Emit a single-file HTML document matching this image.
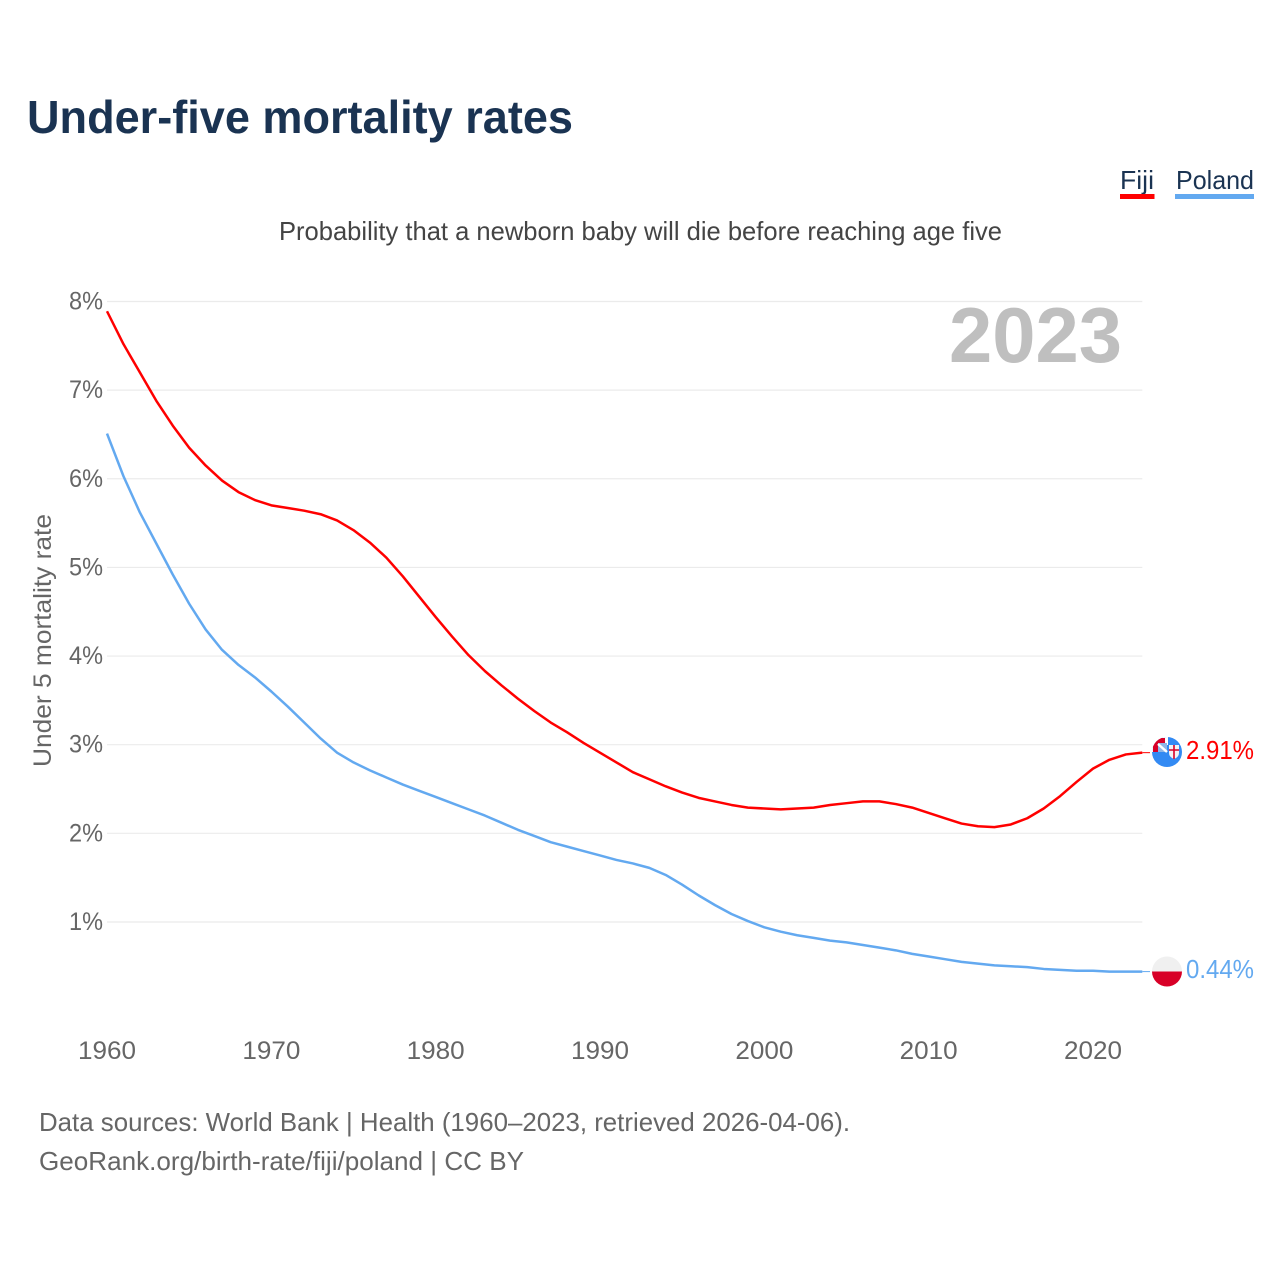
<!DOCTYPE html>
<html lang="en">
<head>
<meta charset="utf-8">
<title>Under-five mortality rates</title>
<style>
html,body{margin:0;padding:0;background:#fff;width:1280px;height:1280px;overflow:hidden}
svg{display:block}
text{font-family:"Liberation Sans",sans-serif}
</style>
</head>
<body>
<svg id="chart" width="1280" height="1280" viewBox="0 0 1280 1280" xmlns="http://www.w3.org/2000/svg">
  <defs>
    <clipPath id="fiji-clip"><circle cx="1167" cy="752" r="15"/></clipPath>
    <clipPath id="poland-clip"><circle cx="1167" cy="971.5" r="15"/></clipPath>
  </defs>
  <rect width="1280" height="1280" fill="#fff"/>
  <text x="27" y="133" font-size="46" font-weight="700" fill="#1a3352" textLength="546" lengthAdjust="spacingAndGlyphs">Under-five mortality rates</text>
  <g>
    <text x="1120" y="189" font-size="26" fill="#1a3352" textLength="34" lengthAdjust="spacingAndGlyphs">Fiji</text>
    <rect x="1120" y="194" width="34.5" height="5" fill="#ff0000"/>
  </g>
  <g>
    <text x="1176" y="189" font-size="26" fill="#1a3352" textLength="78" lengthAdjust="spacingAndGlyphs">Poland</text>
    <rect x="1175" y="194" width="79" height="5" fill="#63a9f0"/>
  </g>
  <text x="279" y="240" font-size="26" fill="#444" textLength="723" lengthAdjust="spacingAndGlyphs">Probability that a newborn baby will die before reaching age five</text>
  <g id="grid"></g>
  <g id="y-ticks"></g>
  <g id="x-ticks"></g>
  <text transform="translate(51,767) rotate(-90)" x="0" y="0" font-size="25" fill="#666" textLength="253" lengthAdjust="spacingAndGlyphs">Under 5 mortality rate</text>
  <text x="949" y="362" font-size="78" font-weight="700" fill="#bfbfbf" textLength="173" lengthAdjust="spacingAndGlyphs">2023</text>
  <g id="series"></g>

  <g clip-path="url(#fiji-clip)">
    <rect x="1150" y="735" width="34" height="34" fill="#338af3"/>
    <path d="M1150 735H1168V745H1158V752H1150Z" fill="#fff"/>
    <path d="M1153 752V738H1165V743H1158V752Z" fill="#d80027"/>
    <rect x="1158" y="743" width="9" height="9" fill="#8fb6e6"/>
    <path d="M1158 744L1167 752" stroke="#fff" stroke-width="2.5" fill="none"/>
    <path d="M1169 745H1179V753Q1179 757 1174 759Q1169 757 1169 753Z" fill="#f3f3f3"/>
    <path d="M1174 745V759M1169 750H1179" stroke="#d80027" stroke-width="1.6" fill="none"/>
  </g>
  <g clip-path="url(#poland-clip)">
    <rect x="1150" y="954" width="34" height="17.5" fill="#f0f0f0"/>
    <rect x="1150" y="971.5" width="34" height="17" fill="#d80027"/>
  </g>
  <text x="1186" y="759" font-size="26" fill="#ff0000" textLength="68" lengthAdjust="spacingAndGlyphs">2.91%</text>
  <text x="1186" y="978" font-size="26" fill="#63a9f0" textLength="68" lengthAdjust="spacingAndGlyphs">0.44%</text>

  <text x="39" y="1131" font-size="26" fill="#666" textLength="811" lengthAdjust="spacingAndGlyphs">Data sources: World Bank | Health (1960–2023, retrieved 2026-04-06).</text>
  <text x="39" y="1170" font-size="26" fill="#666" textLength="485" lengthAdjust="spacingAndGlyphs">GeoRank.org/birth-rate/fiji/poland | CC BY</text>
</svg>
<script>
const years = [1960,1961,1962,1963,1964,1965,1966,1967,1968,1969,1970,1971,1972,1973,1974,1975,1976,1977,1978,1979,1980,1981,1982,1983,1984,1985,1986,1987,1988,1989,1990,1991,1992,1993,1994,1995,1996,1997,1998,1999,2000,2001,2002,2003,2004,2005,2006,2007,2008,2009,2010,2011,2012,2013,2014,2015,2016,2017,2018,2019,2020,2021,2022,2023];
const fijiValues = [7.89,7.52,7.2,6.88,6.6,6.35,6.15,5.98,5.85,5.76,5.70,5.67,5.64,5.60,5.53,5.42,5.28,5.11,4.90,4.67,4.44,4.22,4.01,3.83,3.67,3.52,3.38,3.25,3.14,3.02,2.91,2.80,2.69,2.61,2.53,2.46,2.40,2.36,2.32,2.29,2.28,2.27,2.28,2.29,2.32,2.34,2.36,2.36,2.33,2.29,2.23,2.17,2.11,2.08,2.07,2.10,2.17,2.28,2.42,2.58,2.73,2.83,2.89,2.91];
const polandValues = [6.51,6.03,5.62,5.27,4.92,4.59,4.30,4.07,3.90,3.76,3.60,3.43,3.25,3.07,2.91,2.80,2.71,2.63,2.55,2.48,2.41,2.34,2.27,2.20,2.12,2.04,1.97,1.90,1.85,1.80,1.75,1.70,1.66,1.61,1.53,1.42,1.30,1.19,1.09,1.01,0.94,0.89,0.85,0.82,0.79,0.77,0.74,0.71,0.68,0.64,0.61,0.58,0.55,0.53,0.51,0.50,0.49,0.47,0.46,0.45,0.45,0.44,0.44,0.44];
const yTickValues = [1,2,3,4,5,6,7,8];
const xTickValues = [1960,1970,1980,1990,2000,2010,2020];

const SVG_NS = 'http://www.w3.org/2000/svg';
function xScale(year){ return 107 + (year - 1960) * (1142.3 - 107) / 63; }
function yScale(v){ return 1010.6 - v * (1010.6 - 301.5) / 8; }

const gridGroup = document.getElementById('grid');
const yGroup = document.getElementById('y-ticks');
const xGroup = document.getElementById('x-ticks');
const seriesGroup = document.getElementById('series');

yTickValues.forEach(function(v){
  const line = document.createElementNS(SVG_NS, 'line');
  
  
  line.setAttribute('x1', xScale(1960));
  line.setAttribute('x2', xScale(2023));
  line.setAttribute('y1', yScale(v));
  line.setAttribute('y2', yScale(v));
  line.setAttribute('stroke', '#ebebeb');
  line.setAttribute('stroke-width', '1.2');
  gridGroup.appendChild(line);

  const label = document.createElementNS(SVG_NS, 'text');
  
  
  label.setAttribute('x', 69);
  label.setAttribute('y', yScale(v) + 8);
  label.setAttribute('font-size', '25');
  label.setAttribute('fill', '#666');
  label.setAttribute('textLength', '34');
  label.setAttribute('lengthAdjust', 'spacingAndGlyphs');
  label.textContent = v + '%';
  yGroup.appendChild(label);
});

xTickValues.forEach(function(yr){
  const label = document.createElementNS(SVG_NS, 'text');
  
  
  label.setAttribute('x', xScale(yr) - 29);
  label.setAttribute('y', 1059);
  label.setAttribute('font-size', '25');
  label.setAttribute('fill', '#666');
  label.setAttribute('textLength', '58');
  label.setAttribute('lengthAdjust', 'spacingAndGlyphs');
  label.textContent = yr;
  xGroup.appendChild(label);
});

function pathFor(values){
  return values.map(function(v, i){
    return (i ? 'L' : 'M') + xScale(years[i]).toFixed(2) + ' ' + yScale(v).toFixed(2);
  }).join('');
}

function leaderFor(values){
  const last = yScale(values[values.length - 1]);
  return 'M' + xScale(years[years.length - 1]).toFixed(2) + ' ' + last.toFixed(2) + 'H1150';
}

const fijiLine = document.createElementNS(SVG_NS, 'path');


fijiLine.setAttribute('d', pathFor(fijiValues));
fijiLine.setAttribute('fill', 'none');
fijiLine.setAttribute('stroke', '#ff0000');
fijiLine.setAttribute('stroke-width', '2.5');
fijiLine.setAttribute('stroke-linejoin', 'round');
seriesGroup.appendChild(fijiLine);

const fijiLeader = document.createElementNS(SVG_NS, 'path');


fijiLeader.setAttribute('d', leaderFor(fijiValues));
fijiLeader.setAttribute('fill', 'none');
fijiLeader.setAttribute('stroke', '#ff0000');
fijiLeader.setAttribute('stroke-width', '1');
seriesGroup.appendChild(fijiLeader);

const polandLine = document.createElementNS(SVG_NS, 'path');


polandLine.setAttribute('d', pathFor(polandValues));
polandLine.setAttribute('fill', 'none');
polandLine.setAttribute('stroke', '#63a9f0');
polandLine.setAttribute('stroke-width', '2.5');
polandLine.setAttribute('stroke-linejoin', 'round');
seriesGroup.appendChild(polandLine);

const polandLeader = document.createElementNS(SVG_NS, 'path');


polandLeader.setAttribute('d', leaderFor(polandValues));
polandLeader.setAttribute('fill', 'none');
polandLeader.setAttribute('stroke', '#63a9f0');
polandLeader.setAttribute('stroke-width', '1');
seriesGroup.appendChild(polandLeader);
</script>
</body>
</html>
